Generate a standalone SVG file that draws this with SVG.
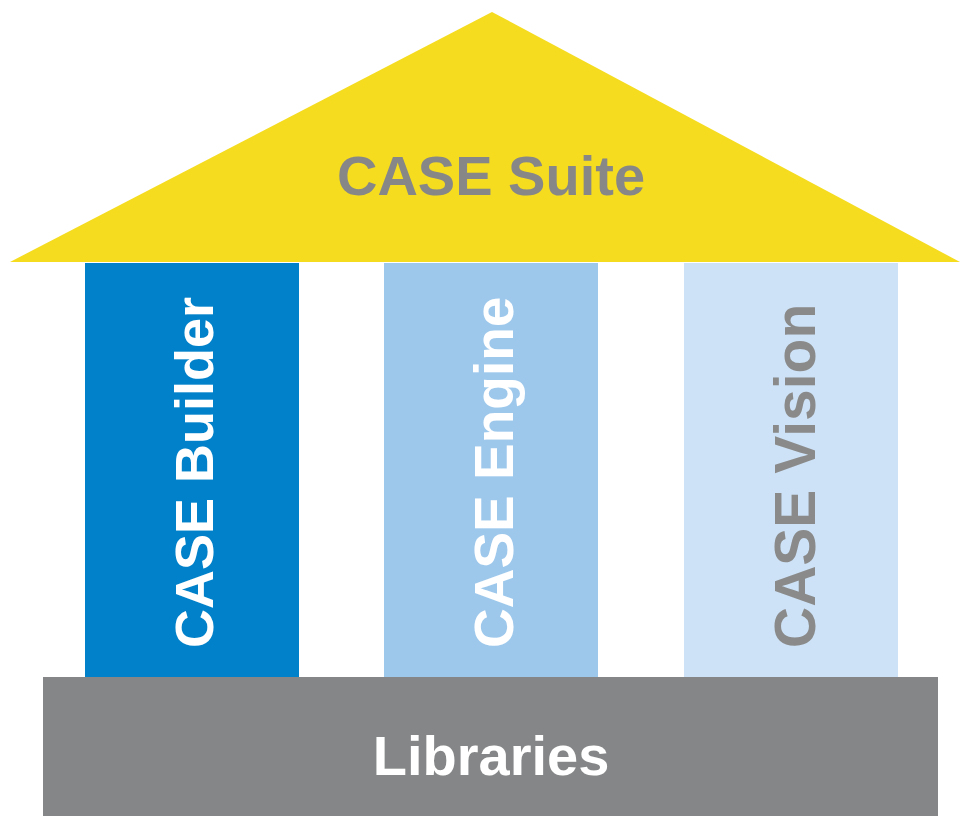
<svg xmlns="http://www.w3.org/2000/svg" width="960" height="816" viewBox="0 0 960 816">
<style>
.t{font-family:"Liberation Sans",Arial,sans-serif;font-weight:bold;font-size:56px}
.v{font-family:"Liberation Sans",Arial,sans-serif;font-weight:bold;font-size:55px}
</style>
<rect width="960" height="816" fill="#ffffff"/>
<g id="roof">
<polygon points="492,12 10,262 960,262" fill="#F5DC1F"/>
<text class="t" x="491" y="195" text-anchor="middle" fill="#878787">CASE Suite</text>
</g>
<g id="builder">
<rect x="85" y="263" width="214" height="415" fill="#0181C9"/>
<text class="v" transform="translate(213,648) rotate(-90)" fill="#ffffff" style="font-size:54px">CASE Builder</text>
</g>
<g id="engine">
<rect x="384" y="263" width="214" height="415" fill="#9DC8EC"/>
<text class="v" transform="translate(513,648) rotate(-90)" fill="#ffffff">CASE Engine</text>
</g>
<g id="vision">
<rect x="684" y="263" width="214" height="415" fill="#CDE2F6"/>
<text class="v" transform="translate(815,648) rotate(-90)" fill="#8A8A8A" style="font-size:57px">CASE Vision</text>
</g>
<g id="libraries">
<rect x="43" y="677" width="895" height="139" fill="#858687"/>
<text class="t" x="491" y="775" text-anchor="middle" fill="#ffffff">Libraries</text>
</g>
<g id="connectors"></g>
</svg>
